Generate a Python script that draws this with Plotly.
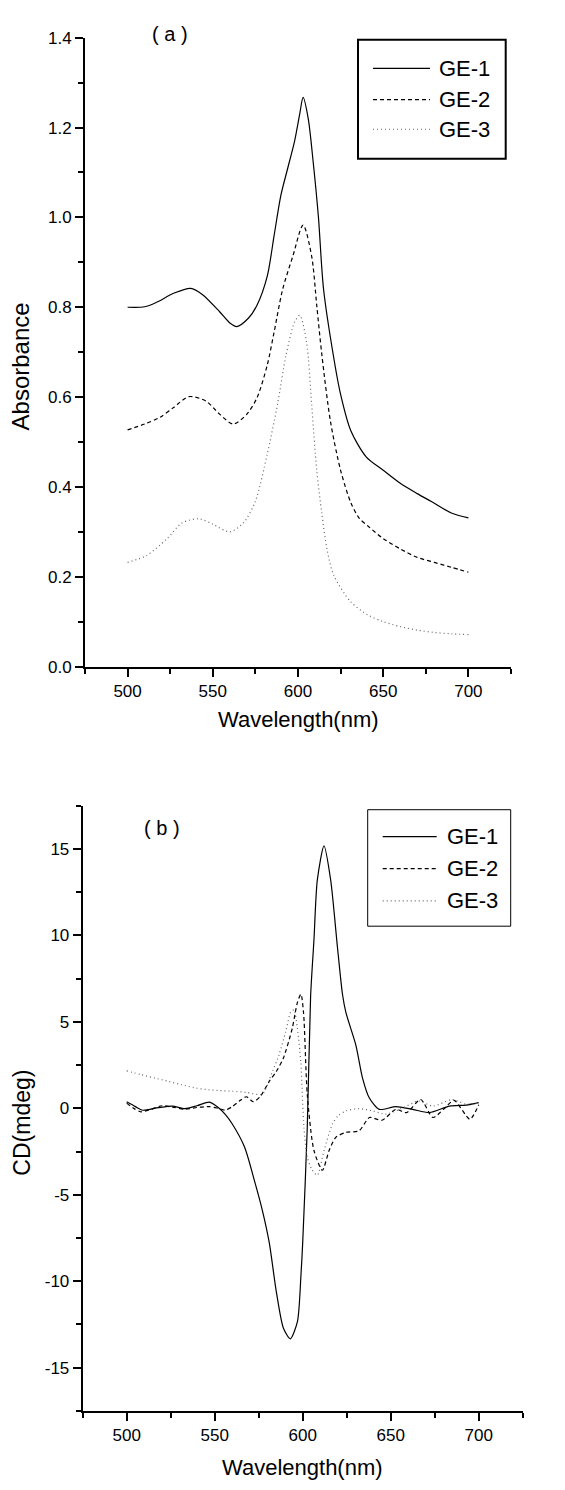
import plotly.graph_objects as go

# ---------------- data: panel (a) absorbance ----------------
wl_a1 = [500, 510, 517, 527, 537, 544, 554, 560, 564, 571, 576, 582, 586, 590, 594, 598, 601, 603,
         606, 609, 612, 615, 621, 625, 631, 640, 650, 660, 670, 678, 690, 700]
abs_a1 = [0.800, 0.801, 0.811, 0.831, 0.842, 0.828, 0.790, 0.765, 0.757, 0.776, 0.805, 0.870, 0.960,
          1.050, 1.110, 1.170, 1.230, 1.267, 1.220, 1.120, 1.000, 0.840, 0.687, 0.606, 0.525, 0.467,
          0.437, 0.408, 0.385, 0.368, 0.342, 0.331]

wl_a2 = [500, 510, 519, 527, 536, 546, 554, 562, 570, 576, 582, 586, 591, 597, 603, 608,
         611, 614, 619, 625, 631, 636, 641, 650, 660, 670, 680, 690, 700]
abs_a2 = [0.527, 0.540, 0.555, 0.577, 0.601, 0.591, 0.562, 0.540, 0.562, 0.599, 0.672, 0.745, 0.840,
          0.914, 0.983, 0.914, 0.804, 0.694, 0.547, 0.437, 0.365, 0.330, 0.313, 0.285,
          0.262, 0.243, 0.232, 0.221, 0.210]

wl_a3 = [500, 511, 523, 532, 542, 550, 560, 568, 575, 582, 588, 593, 598, 601, 605, 608, 611,
         614, 617, 621, 631, 641, 650, 660, 670, 680, 690, 700]
abs_a3 = [0.232, 0.247, 0.284, 0.320, 0.329, 0.317, 0.300, 0.320, 0.368, 0.474, 0.584, 0.694,
          0.767, 0.782, 0.723, 0.584, 0.437, 0.340, 0.262, 0.203, 0.144, 0.115, 0.100, 0.089, 0.081,
          0.076, 0.073, 0.071]

# ---------------- data: panel (b) CD ----------------
wl_b1 = [500, 505, 509, 518, 526, 533, 540, 547, 552, 556, 560, 567, 573, 577, 581, 585, 589, 593,
         597, 599, 600, 602.6, 604.5, 606.4, 608.3, 612.1, 615.9, 619.7, 622.6, 624.5, 630.2, 634,
         637.8, 643.5, 653, 662.5, 672, 683.4, 692.9, 700]
cd_b1 = [0.38, 0.10, -0.11, 0.04, 0.13, -0.02, 0.15, 0.36, 0.05, -0.35, -0.91, -2.25, -4.34, -5.87,
         -7.77, -10.6, -12.7, -13.33, -12.34, -9.67, -7.77, -1.1, 6.5, 9.75, 13.2, 15.18, 13.2, 9.37,
         6.6, 5.56, 3.66, 1.75, 0.61, -0.06, 0.10, -0.06, -0.25, 0.13, 0.19, 0.33]

wl_b2 = [500, 504, 508, 514, 520, 527, 533, 540, 547, 552, 556, 560, 564, 568, 572, 576, 581, 585,
         589, 594, 597, 599, 600.5, 602.6, 606.4, 611.2, 615, 618.8, 624.5, 632, 638, 645, 653, 659,
         667, 674, 680, 686, 695, 700]
cd_b2 = [0.30, 0.00, -0.20, -0.05, 0.15, 0.05, -0.05, 0.05, 0.10, 0.00, -0.10, 0.10, 0.42, 0.67,
         0.38, 0.70, 1.56, 2.13, 2.90, 4.60, 6.13, 6.60, 5.50, 0.80, -2.44, -3.58, -2.44, -1.68,
         -1.39, -1.30, -0.53, -0.69, -0.06, -0.25, 0.51, -0.53, -0.06, 0.46, -0.63, 0.20]

wl_b3 = [500, 508, 516, 524, 531, 538, 545, 552, 560, 568, 577, 582.7, 586.5, 590.3, 593.2, 595,
         597, 598.9, 600.7, 602.6, 605, 608.3, 612.1, 616.9, 620, 624.5, 632, 640, 647, 655, 666,
         674, 685, 693, 700]
cd_b3 = [2.17, 1.95, 1.75, 1.55, 1.37, 1.20, 1.09, 1.03, 0.99, 0.92, 0.82, 2.10, 3.09, 4.42, 5.56,
         5.70, 4.60, 2.70, -1.10, -2.82, -3.50, -3.87, -2.44, -0.91, -0.45, -0.15, -0.02, -0.15,
         -0.34, -0.06, 0.42, 0.13, 0.51, 0.23, 0.30]

series_names = ["GE-1", "GE-2", "GE-3"]

x_tickvals = [500, 550, 600, 650, 700]
x_ticktext = ["500", "550", "600", "650", "700"]
ya_tickvals = [0.0, 0.2, 0.4, 0.6, 0.8, 1.0, 1.2, 1.4]
ya_ticktext = ["0.0", "0.2", "0.4", "0.6", "0.8", "1.0", "1.2", "1.4"]
yb_tickvals = [-15, -10, -5, 0, 5, 10, 15]
yb_ticktext = ["-15", "-10", "-5", "0", "5", "10", "15"]

# ---------------- styling / layout ----------------
OFF = 8                      # default page (body) margin in the browser
W, H = 565 - OFF, 1490 - OFF
FONT = "Arial, Liberation Sans, sans-serif"
styles = [
    dict(color="black", width=1.2, dash="solid"),
    dict(color="black", width=1.2, dash="4px,3px"),
    dict(color="#666666", width=1.2, dash="1px,3px"),
]


def px(xp):
    return (xp - OFF) / W


def py(yp):
    return 1 - (yp - OFF) / H


fig = go.Figure()
for (xs, ys), st, nm in zip([(wl_a1, abs_a1), (wl_a2, abs_a2), (wl_a3, abs_a3)], styles, series_names):
    fig.add_trace(go.Scatter(x=xs, y=ys, mode="lines", name=nm, line=dict(shape="spline", smoothing=0.8, **st),
                             xaxis="x", yaxis="y", showlegend=False))
for (xs, ys), st, nm in zip([(wl_b1, cd_b1), (wl_b2, cd_b2), (wl_b3, cd_b3)], styles, series_names):
    fig.add_trace(go.Scatter(x=xs, y=ys, mode="lines", name=nm, line=dict(shape="spline", smoothing=0.7, **st),
                             xaxis="x2", yaxis="y2", showlegend=False))

axis_common = dict(showgrid=False, zeroline=False, showline=True, linecolor="black", linewidth=2,
                   ticks="outside", ticklen=8, tickwidth=1.5, tickcolor="black",
                   tickfont=dict(family=FONT, size=17, color="black"), mirror=False)
minor_common = dict(ticks="outside", ticklen=5, tickwidth=1.5, tickcolor="black")

fig.update_layout(
    width=W, height=H,
    margin=dict(l=0, r=0, t=0, b=0),
    paper_bgcolor="white", plot_bgcolor="white",
    xaxis=dict(domain=[px(85), px(511)], range=[475, 725], anchor="y",
               tickvals=x_tickvals, ticktext=x_ticktext,
               minor=dict(tick0=475, dtick=50, **minor_common), **axis_common),
    yaxis=dict(domain=[py(666), py(29)], range=[0, 1.4], anchor="x",
               tickvals=ya_tickvals, ticktext=ya_ticktext,
               minor=dict(tick0=0.1, dtick=0.2, **minor_common), **axis_common),
    xaxis2=dict(domain=[px(82.7), px(522.7)], range=[475, 725], anchor="y2",
                tickvals=x_tickvals, ticktext=x_ticktext,
                minor=dict(tick0=475, dtick=50, **minor_common), **axis_common),
    yaxis2=dict(domain=[py(1420), py(807)], range=[-17.5, 17.5], anchor="x2",
                tickvals=yb_tickvals, ticktext=yb_ticktext,
                minor=dict(tick0=-17.5, dtick=5, **minor_common), **axis_common),
)

ann = []
shapes = []


def text(x, y, s, size, angle=0, xanchor="center"):
    ann.append(dict(x=px(x), y=py(y), xref="paper", yref="paper", text=s, showarrow=False,
                    font=dict(family=FONT, size=size, color="black"), textangle=angle,
                    xanchor=xanchor, yanchor="middle"))


# panel labels and axis titles
text(170, 25, "( a )", 20)
text(162, 830, "( b )", 20)
text(20, 362, "Absorbance", 24, angle=-90)
text(298, 720, "Wavelength(nm)", 22)
text(22, 1128, "CD(mdeg)", 23, angle=-90)
text(302.5, 1477, "Wavelength(nm)", 22)

# custom legends
legends = [
    dict(box=(358, 31, 505.7, 151.7), bw=2, lx0=373, lx1=430, tx=436.7, ys=[60, 91.7, 121.7]),
    dict(box=(367.7, 811, 510.7, 929), bw=1, lx0=382.7, lx1=436.7, tx=445, ys=[838.3, 870.7, 903.3]),
]
for lg in legends:
    x0, y0, x1, y1 = lg["box"]
    shapes.append(dict(type="rect", xref="paper", yref="paper", x0=px(x0), x1=px(x1), y0=py(y1), y1=py(y0),
                       line=dict(color="black", width=lg["bw"]), fillcolor="rgba(0,0,0,0)"))
    for yy, st, nm in zip(lg["ys"], styles, series_names):
        shapes.append(dict(type="line", xref="paper", yref="paper", x0=px(lg["lx0"]), x1=px(lg["lx1"]),
                           y0=py(yy), y1=py(yy), line=dict(color=st["color"], width=st["width"], dash=st["dash"])))
        text(lg["tx"], yy, nm, 22, xanchor="left")

fig.update_layout(annotations=ann, shapes=shapes)
fig.write_html("out.html")
